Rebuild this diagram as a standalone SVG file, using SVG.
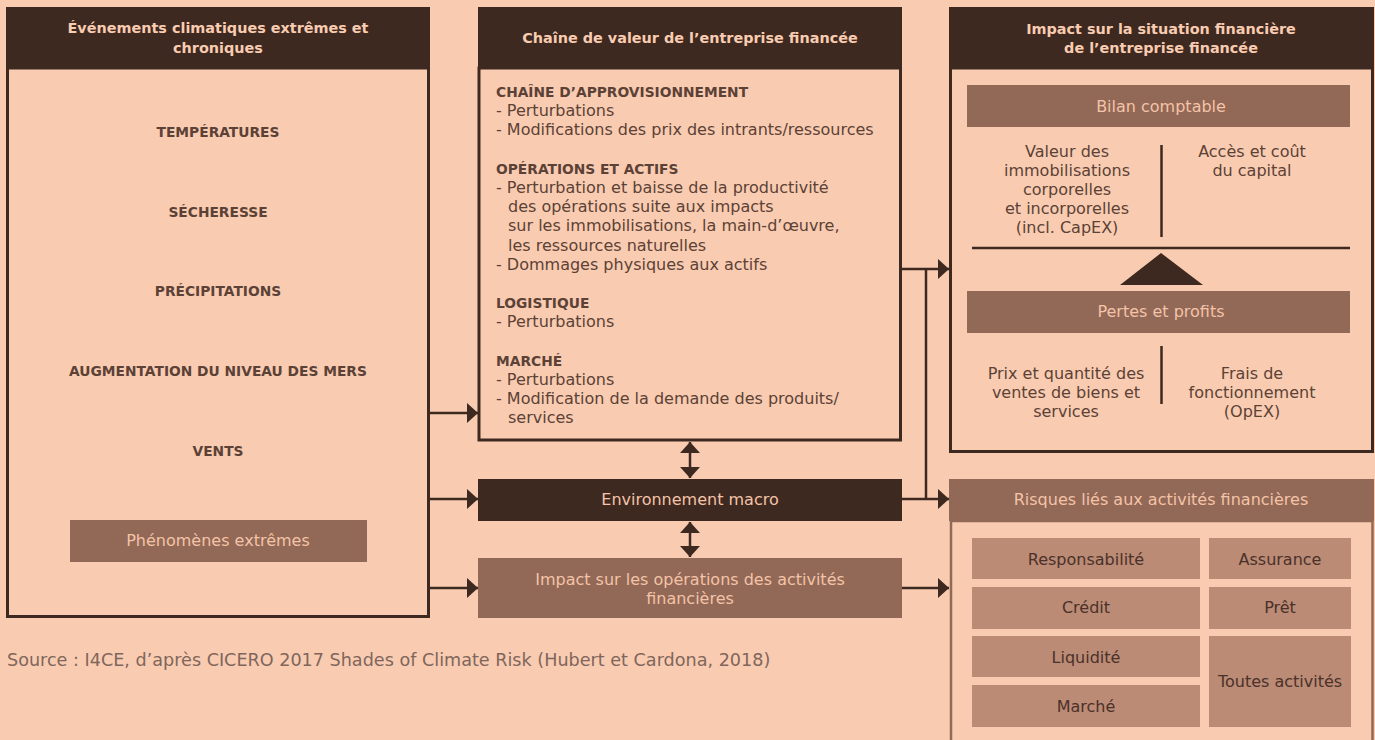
<svg xmlns="http://www.w3.org/2000/svg" width="1375" height="740" viewBox="0 0 1375 740">
<defs>
<style>
text{font-family:"DejaVu Sans","Liberation Sans",sans-serif;}
.hdr{fill:#3d2920;}
.hdrt{fill:#f9ccb1;font-size:14.4px;font-weight:700;text-anchor:middle;}
.body{fill:#f9ccb1;stroke:#3d2920;stroke-width:3;}
.cat{fill:#5c4136;font-size:13.8px;font-weight:700;text-anchor:middle;}
.sec{fill:#5c4136;font-size:13.8px;font-weight:700;}
.item{fill:#5c4136;font-size:16px;}
.mid{fill:#926856;}
.midt{fill:#f4c3a8;font-size:16px;text-anchor:middle;}
.ct{fill:#5c4136;font-size:16px;text-anchor:middle;}
.cell{fill:#bb8b76;}
.cellt{fill:#4a3129;font-size:16px;text-anchor:middle;}
.conn{stroke:#3d2920;stroke-width:2.5;fill:none;}
</style>
<marker id="ah" markerUnits="userSpaceOnUse" markerWidth="11" markerHeight="20" refX="11" refY="10" orient="auto-start-reverse" viewBox="0 0 11 20">
<path d="M0,0 L11,10 L0,20 z" fill="#3d2920"/>
</marker>
</defs>
<rect width="1375" height="740" fill="#f9ccb1"/>

<g id="climat">
<rect class="body" x="7.5" y="68" width="421" height="548.5"/>
<rect class="hdr" x="6" y="7" width="424" height="61"/>
<text class="hdrt" x="218" y="33">Événements climatiques extrêmes et</text>
<text class="hdrt" x="218" y="53">chroniques</text>
<text class="cat" x="218" y="137">TEMPÉRATURES</text>
<text class="cat" x="218" y="217">SÉCHERESSE</text>
<text class="cat" x="218" y="296">PRÉCIPITATIONS</text>
<text class="cat" x="218" y="376">AUGMENTATION DU NIVEAU DES MERS</text>
<text class="cat" x="218" y="456">VENTS</text>
<g id="phenomenes">
<rect class="mid" x="70" y="520" width="297" height="42"/>
<text class="midt" x="218" y="546">Phénomènes extrêmes</text>
</g>
</g>

<g id="chaine">
<rect class="body" x="479" y="68" width="421.5" height="372" stroke-width="2.5"/>
<rect class="hdr" x="478" y="7" width="424" height="61"/>
<text class="hdrt" x="690" y="43">Chaîne de valeur de l’entreprise financée</text>
<text class="sec" x="496" y="97">CHAÎNE D’APPROVISIONNEMENT</text>
<text class="item" x="496" y="116.2">- Perturbations</text>
<text class="item" x="496" y="135.4">- Modifications des prix des intrants/ressources</text>
<text class="sec" x="496" y="173.8">OPÉRATIONS ET ACTIFS</text>
<text class="item" x="496" y="193">- Perturbation et baisse de la productivité</text>
<text class="item" x="508" y="212.2">des opérations suite aux impacts</text>
<text class="item" x="508" y="231.4">sur les immobilisations, la main-d’œuvre,</text>
<text class="item" x="508" y="250.6">les ressources naturelles</text>
<text class="item" x="496" y="269.8">- Dommages physiques aux actifs</text>
<text class="sec" x="496" y="308.2">LOGISTIQUE</text>
<text class="item" x="496" y="327.4">- Perturbations</text>
<text class="sec" x="496" y="365.8">MARCHÉ</text>
<text class="item" x="496" y="385">- Perturbations</text>
<text class="item" x="496" y="404.2">- Modification de la demande des produits/</text>
<text class="item" x="508" y="423.4">services</text>
</g>

<g id="macro">
<rect class="hdr" x="478" y="479" width="424" height="42"/>
<text class="midt" x="690" y="505">Environnement macro</text>
</g>

<g id="impact-ops">
<rect class="mid" x="478" y="558" width="424" height="60"/>
<text class="midt" x="690" y="585">Impact sur les opérations des activités</text>
<text class="midt" x="690" y="604">financières</text>
</g>

<g id="situation">
<rect class="body" x="950.5" y="68" width="422" height="383.5"/>
<rect class="hdr" x="949" y="7" width="425" height="61"/>
<text class="hdrt" x="1161" y="34">Impact sur la situation financière</text>
<text class="hdrt" x="1161" y="53">de l’entreprise financée</text>
<g id="bilan">
<rect class="mid" x="967" y="85" width="383" height="42"/>
<text class="midt" x="1161" y="112">Bilan comptable</text>
</g>
<text class="ct" x="1067" y="157">Valeur des</text>
<text class="ct" x="1067" y="176">immobilisations</text>
<text class="ct" x="1067" y="195">corporelles</text>
<text class="ct" x="1067" y="214">et incorporelles</text>
<text class="ct" x="1067" y="233">(incl. CapEX)</text>
<text class="ct" x="1252" y="157">Accès et coût</text>
<text class="ct" x="1252" y="176">du capital</text>
<line x1="1161.5" y1="145" x2="1161.5" y2="237" stroke="#3d2920" stroke-width="2.5"/>
<line x1="972" y1="248" x2="1350" y2="248" stroke="#3d2920" stroke-width="2.5"/>
<polygon points="1161,253 1203,285 1120,285" fill="#3d2920"/>
<g id="pertes">
<rect class="mid" x="967" y="291" width="383" height="42"/>
<text class="midt" x="1161" y="317">Pertes et profits</text>
</g>
<line x1="1161.5" y1="346" x2="1161.5" y2="404" stroke="#3d2920" stroke-width="2.5"/>
<text class="ct" x="1066" y="379">Prix et quantité des</text>
<text class="ct" x="1066" y="398">ventes de biens et</text>
<text class="ct" x="1066" y="417">services</text>
<text class="ct" x="1252" y="379">Frais de</text>
<text class="ct" x="1252" y="398">fonctionnement</text>
<text class="ct" x="1252" y="417">(OpEX)</text>
</g>

<g id="risques">
<rect x="951" y="521" width="421.5" height="230" fill="#f9ccb1" stroke="#926856" stroke-width="2.5"/>
<rect class="mid" x="949" y="479" width="425" height="42"/>
<text class="midt" x="1161" y="505">Risques liés aux activités financières</text>
<g id="responsabilite"><rect class="cell" x="972" y="538" width="228" height="41"/><text class="cellt" x="1086" y="565">Responsabilité</text></g>
<g id="assurance"><rect class="cell" x="1209" y="538" width="142" height="41"/><text class="cellt" x="1280" y="565">Assurance</text></g>
<g id="credit"><rect class="cell" x="972" y="587" width="228" height="42"/><text class="cellt" x="1086" y="613">Crédit</text></g>
<g id="pret"><rect class="cell" x="1209" y="587" width="142" height="42"/><text class="cellt" x="1280" y="613">Prêt</text></g>
<g id="liquidite"><rect class="cell" x="972" y="636" width="228" height="41"/><text class="cellt" x="1086" y="663">Liquidité</text></g>
<g id="marche"><rect class="cell" x="972" y="685" width="228" height="42"/><text class="cellt" x="1086" y="712">Marché</text></g>
<g id="toutes"><rect class="cell" x="1209" y="636" width="142" height="91"/><text class="cellt" x="1280" y="687">Toutes activités</text></g>
</g>

<g id="connectors">
<line class="conn" x1="429" y1="413" x2="478" y2="413" marker-end="url(#ah)"/>
<line class="conn" x1="429" y1="499" x2="478" y2="499" marker-end="url(#ah)"/>
<line class="conn" x1="429" y1="588" x2="478" y2="588" marker-end="url(#ah)"/>
<line class="conn" x1="901" y1="269" x2="949" y2="269" marker-end="url(#ah)"/>
<line class="conn" x1="926" y1="269" x2="926" y2="499"/>
<line class="conn" x1="902" y1="499" x2="949" y2="499" marker-end="url(#ah)"/>
<line class="conn" x1="902" y1="588" x2="949" y2="588" marker-end="url(#ah)"/>
<line class="conn" x1="690" y1="442" x2="690" y2="478" marker-start="url(#ah)" marker-end="url(#ah)"/>
<line class="conn" x1="690" y1="522" x2="690" y2="557" marker-start="url(#ah)" marker-end="url(#ah)"/>
</g>

<text x="7" y="666" fill="#7f665c" font-size="17.6">Source : I4CE, d’après CICERO 2017 Shades of Climate Risk (Hubert et Cardona, 2018)</text>
</svg>
